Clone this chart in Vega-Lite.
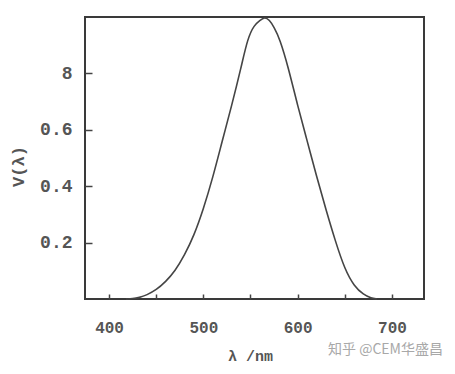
{
  "$schema": "https://vega.github.io/schema/vega-lite/v6.json",
  "width": 339,
  "height": 282,
  "autosize": {"type": "none"},
  "padding": {"left": 85, "top": 17, "right": 31, "bottom": 75},
  "background": "white",
  "config": {
    "view": {"stroke": "#3a3a3a", "strokeWidth": 2},
    "axis": {"grid": false, "domain": false}
  },
  "title": {
    "text": "知乎 @CEM华盛昌",
    "orient": "bottom",
    "anchor": "end",
    "font": "Noto Sans CJK SC",
    "fontSize": 14,
    "fontWeight": "normal",
    "color": "#a8a8a8",
    "dx": 19,
    "dy": -20,
    "offset": 0
  },
  "data": {
    "values": [
      {"wl": 418, "v": 0.0},
      {"wl": 425, "v": 0.001},
      {"wl": 432, "v": 0.005},
      {"wl": 440, "v": 0.014},
      {"wl": 450, "v": 0.032},
      {"wl": 460, "v": 0.061},
      {"wl": 470, "v": 0.099},
      {"wl": 480, "v": 0.155},
      {"wl": 490, "v": 0.224},
      {"wl": 500, "v": 0.318},
      {"wl": 510, "v": 0.43},
      {"wl": 520, "v": 0.56},
      {"wl": 530, "v": 0.685},
      {"wl": 540, "v": 0.82},
      {"wl": 547, "v": 0.925},
      {"wl": 554, "v": 0.972},
      {"wl": 560, "v": 0.988},
      {"wl": 565, "v": 1.0},
      {"wl": 570, "v": 0.99},
      {"wl": 575, "v": 0.964},
      {"wl": 581, "v": 0.923},
      {"wl": 590, "v": 0.823},
      {"wl": 600, "v": 0.685},
      {"wl": 610, "v": 0.562},
      {"wl": 620, "v": 0.436},
      {"wl": 630, "v": 0.317},
      {"wl": 640, "v": 0.205},
      {"wl": 650, "v": 0.105},
      {"wl": 660, "v": 0.045},
      {"wl": 670, "v": 0.015},
      {"wl": 678, "v": 0.003},
      {"wl": 684, "v": 0.0}
    ]
  },
  "mark": {"type": "line", "color": "#454545", "strokeWidth": 1.6, "interpolate": "basis"},
  "encoding": {
    "x": {
      "field": "wl",
      "type": "quantitative",
      "scale": {"domain": [374.5, 734], "nice": false, "zero": false},
      "axis": {
        "values": [400, 450, 500, 550, 600, 650, 700],
        "labelExpr": "datum.value % 100 === 0 ? datum.label : ''",
        "tickSize": -5,
        "tickColor": "#444",
        "tickWidth": 1.5,
        "labelPadding": 25,
        "labelFont": "Liberation Mono",
        "labelFontSize": 16,
        "labelColor": "#555",
        "labelFontWeight": "bold",
        "title": "λ /nm",
        "titleFont": "Liberation Mono",
        "titleFontSize": 15,
        "titleFontWeight": "bold",
        "titleColor": "#555",
        "titleX": 165,
        "titleY": 56,
        "titleBaseline": "middle"
      }
    },
    "y": {
      "field": "v",
      "type": "quantitative",
      "scale": {"domain": [0, 1], "nice": false},
      "axis": {
        "values": [0.2, 0.4, 0.6, 0.8],
        "labelExpr": "datum.value === 0.8 ? '8' : format(datum.value, '.1f')",
        "tickSize": -7,
        "tickColor": "#444",
        "tickWidth": 1.5,
        "labelPadding": 20,
        "labelFont": "Liberation Mono",
        "labelFontSize": 18,
        "labelColor": "#555",
        "labelFontWeight": "bold",
        "title": "V(λ)",
        "titleFont": "Liberation Mono",
        "titleFontSize": 17,
        "titleFontWeight": "bold",
        "titleColor": "#555",
        "titleX": -67,
        "titleY": 149,
        "titleAngle": -90,
        "titleAlign": "center",
        "titleBaseline": "middle"
      }
    }
  }
}
